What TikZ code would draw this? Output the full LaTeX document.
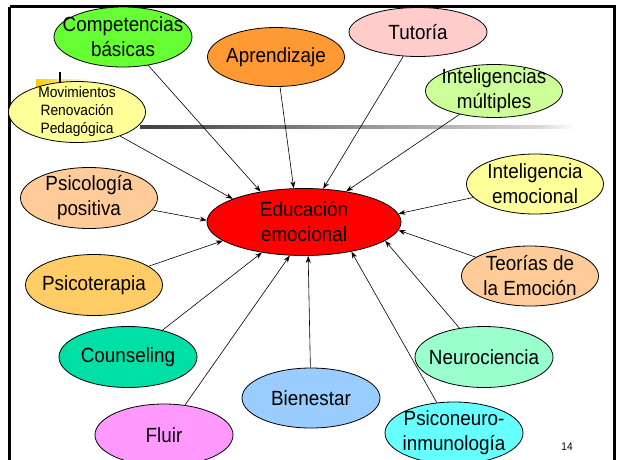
\documentclass[tikz,border=0pt]{standalone}
\usepackage{fontspec}
\setmainfont{Liberation Sans}[FakeStretch=0.92]
\usetikzlibrary{arrows.meta,shapes.geometric}
\definecolor{cComp}{HTML}{66FF33}
\definecolor{cApr}{HTML}{FF9933}
\definecolor{cTut}{HTML}{FFCCCC}
\definecolor{cMult}{HTML}{CCFF99}
\definecolor{cYel}{HTML}{FFFF99}
\definecolor{cPeach}{HTML}{FFCC99}
\definecolor{cPsiT}{HTML}{FFCC66}
\definecolor{cCoun}{HTML}{00E0A6}
\definecolor{cNeur}{HTML}{99FFCC}
\definecolor{cBien}{HTML}{99CCFF}
\definecolor{cFluir}{HTML}{FF99FF}
\definecolor{cPsiN}{HTML}{66FFFF}
\definecolor{cGold}{HTML}{FFCC00}
\tikzset{
  bub/.style={ellipse, draw=black, line width=0.8pt, inner sep=0pt,
              minimum width=137pt, minimum height=60pt},
  lbl/.style={align=center, inner sep=0pt, font=\fontsize{20.5}{25}\selectfont},
  arr/.style={line width=0.6pt, -{Stealth[length=7pt,width=5pt]}}
}
\begin{document}
\begin{tikzpicture}[x=1pt,y=-1pt]
\useasboundingbox (0,0) rectangle (619,459);
\fill[white] (0,0) rectangle (619,459);
% slide decorations
\shade[left color=cGold, right color=white] (36,79) rectangle (90,100);
\draw[line width=2.5pt] (60,72) -- (60,85);
\shade[left color=black!75, right color=black!15] (140,125) rectangle (540,128);
\shade[left color=black!15, right color=white] (540,125) rectangle (575,128);
% frame
\draw[line width=3pt] (9.5,6.5) -- (614.5,6.5) -- (614.5,470);
\draw[line width=3pt] (9.5,6.5) -- (9.5,470);
% centre
\node[bub, fill=red, minimum width=194pt, minimum height=67pt] (edu) at (304,222) {};
\node[lbl] at (edu) {Educación\\emocional};
% outer ellipses
\node[bub, fill=cComp, minimum width=138pt] (comp) at (123,37) {};
\node[lbl] at (comp) {Competencias\\básicas};
\node[bub, fill=cApr, minimum height=59pt] (apr) at (276,57) {};
\node[lbl] at (apr) {Aprendizaje};
\node[bub, fill=cTut, minimum width=138pt, minimum height=49pt] (tut) at (418,32) {};
\node[lbl] at (tut) {Tutoría};
\node[bub, fill=cMult, minimum height=53pt] (mult) at (494,91) {};
\node[lbl] at (mult) {Inteligencias\\múltiples};
\node[bub, fill=cYel, minimum height=61pt] (mov) at (77,112) {};
\node[align=center, inner sep=0pt, font=\fontsize{15}{18}\selectfont] at (mov) {Movimientos\\Renovación\\Pedagógica};
\node[bub, fill=cYel] (iem) at (535,184) {};
\node[lbl] at (iem) {Inteligencia\\emocional};
\node[bub, fill=cPeach, minimum height=61pt] (ppos) at (89,198) {};
\node[lbl] at (ppos) {Psicología\\positiva};
\node[bub, fill=cPeach] (teo) at (530,276) {};
\node[lbl] at (teo) {Teorías de\\la Emoción};
\node[bub, fill=cPsiT, minimum height=61pt] (pter) at (94,285) {};
\node[lbl] at (pter) {Psicoterapia};
\node[bub, fill=cCoun, minimum width=138pt, minimum height=61pt] (coun) at (128,357) {};
\node[lbl] at (coun) {Counseling};
\node[bub, fill=cNeur, minimum width=138pt, minimum height=61pt] (neur) at (484,357) {};
\node[lbl] at (neur) {Neurociencia};
\node[bub, fill=cBien, minimum width=138pt] (bien) at (311,398) {};
\node[lbl] at (bien) {Bienestar};
\node[bub, fill=cFluir, minimum width=138pt, minimum height=62pt] (fluir) at (164,435) {};
\node[lbl] at (fluir) {Fluir};
\node[bub, fill=cPsiN, minimum width=138pt, minimum height=62pt] (psin) at (454,433) {};
\node[lbl] at (psin) {Psiconeuro-\\inmunología};
\node[inner sep=0pt, font=\fontsize{11}{12}\selectfont] (pg) at (567,447) {14};
% connectors
\draw[arr] (mov) -- (edu.162);
\draw[arr] (comp) -- (edu.145);
\draw[arr] (apr) -- (edu.107);
\draw[arr] (tut) -- (edu.60);
\draw[arr] (mult) -- (edu.36);
\draw[arr] (iem) -- (edu.5);
\draw[arr] (teo) -- (edu.-5.5);
\draw[arr] (neur) -- (edu.-13.5);
\draw[arr] (psin) -- (edu.-32);
\draw[arr] (bien) -- (edu.-83);
\draw[arr] (fluir) -- (edu.-113);
\draw[arr] (coun) -- (edu.-144);
\draw[arr] (pter) -- (edu.-167);
\draw[arr] (ppos) -- (edu.179);
\end{tikzpicture}
\end{document}
